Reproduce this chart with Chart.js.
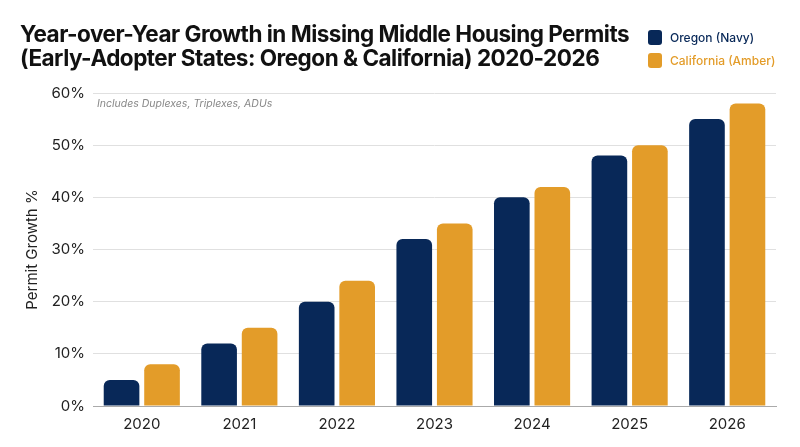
<!DOCTYPE html>
<html>
<head>
<meta charset="utf-8">
<script src="https://cdn.jsdelivr.net/npm/chart.js@4/dist/chart.umd.min.js"></script>
<style>
  html,body{margin:0;padding:0;background:#fff;}
  #wrap{position:relative;width:800px;height:447px;overflow:hidden;font-family:Inter,"Noto Sans",sans-serif;}
  #c{position:absolute;left:0;top:0;}
  #title{position:absolute;left:20px;top:22px;font-size:22.5px;font-weight:700;line-height:24px;color:#111;letter-spacing:-0.5px;}
  #legend{position:absolute;left:648px;top:26px;font-size:12px;font-weight:500;}
  .li{display:flex;align-items:center;height:23px;}
  .sw{width:14px;height:15px;border-radius:3px;margin-right:8px;}
  #sub{position:absolute;left:97px;top:97px;font-size:10.5px;font-style:italic;color:#888;}
</style>
</head>
<body>
<div id="wrap">
  <canvas id="c" width="800" height="447"></canvas>
  <div id="title">Year-over-Year Growth in Missing Middle Housing Permits<br>(Early-Adopter States: Oregon &amp; California) 2020-2026</div>
  <div id="legend"></div>
  <div id="sub">Includes Duplexes, Triplexes, ADUs</div>
</div>
<script>
const years = ["2020","2021","2022","2023","2024","2025","2026"];
const oregon = [5, 12, 20, 32, 40, 48, 55];
const california = [8, 15, 24, 35, 42, 50, 58];
const seriesLabels = ["Oregon (Navy)", "California (Amber)"];
const seriesColors = ["#082858", "#E39C29"];
const yTitle = "Permit Growth %";

const datasets = [oregon, california].map((d, i) => ({
  label: seriesLabels[i],
  data: d,
  backgroundColor: seriesColors[i],
  borderRadius: {topLeft: 6, topRight: 6, bottomLeft: 0, bottomRight: 0},
  borderSkipped: 'bottom',
  categoryPercentage: 0.83,
  barPercentage: 0.88
}));

const leg = document.getElementById('legend');
seriesLabels.forEach((l, i) => {
  const row = document.createElement('div');
  row.className = 'li';
  row.innerHTML = '<span class="sw" style="background:' + seriesColors[i] + '"></span><span style="color:' + seriesColors[i] + '">' + l + '</span>';
  leg.appendChild(row);
});

new Chart(document.getElementById('c'), {
  type: 'bar',
  data: {labels: years, datasets},
  options: {
    responsive: false,
    animation: false,
    devicePixelRatio: 1,
    layout: {padding: {top: 93, right: 24, bottom: 8, left: 23}},
    plugins: {legend: {display: false}, tooltip: {enabled: false}, title: {display: false}},
    scales: {
      x: {
        grid: {display: false},
        border: {display: true, color: '#aaa', width: 1},
        ticks: {color: '#222', font: {family: 'Inter', size: 15}, padding: 1},
        afterFit: s => { s.height = 33; }
      },
      y: {
        min: 0, max: 60,
        ticks: {stepSize: 10, color: '#222', font: {family: 'Inter', size: 15}, padding: 8,
                callback: v => v + '%'},
        grid: {color: '#e0e0e0', drawTicks: false},
        border: {display: false},
        title: {display: true, text: yTitle, color: '#222', font: {family: 'Inter', size: 15}, padding: {top: 0, bottom: 6}},
        afterFit: s => { s.width = 70; }
      }
    }
  }
});
</script>
</body>
</html>
